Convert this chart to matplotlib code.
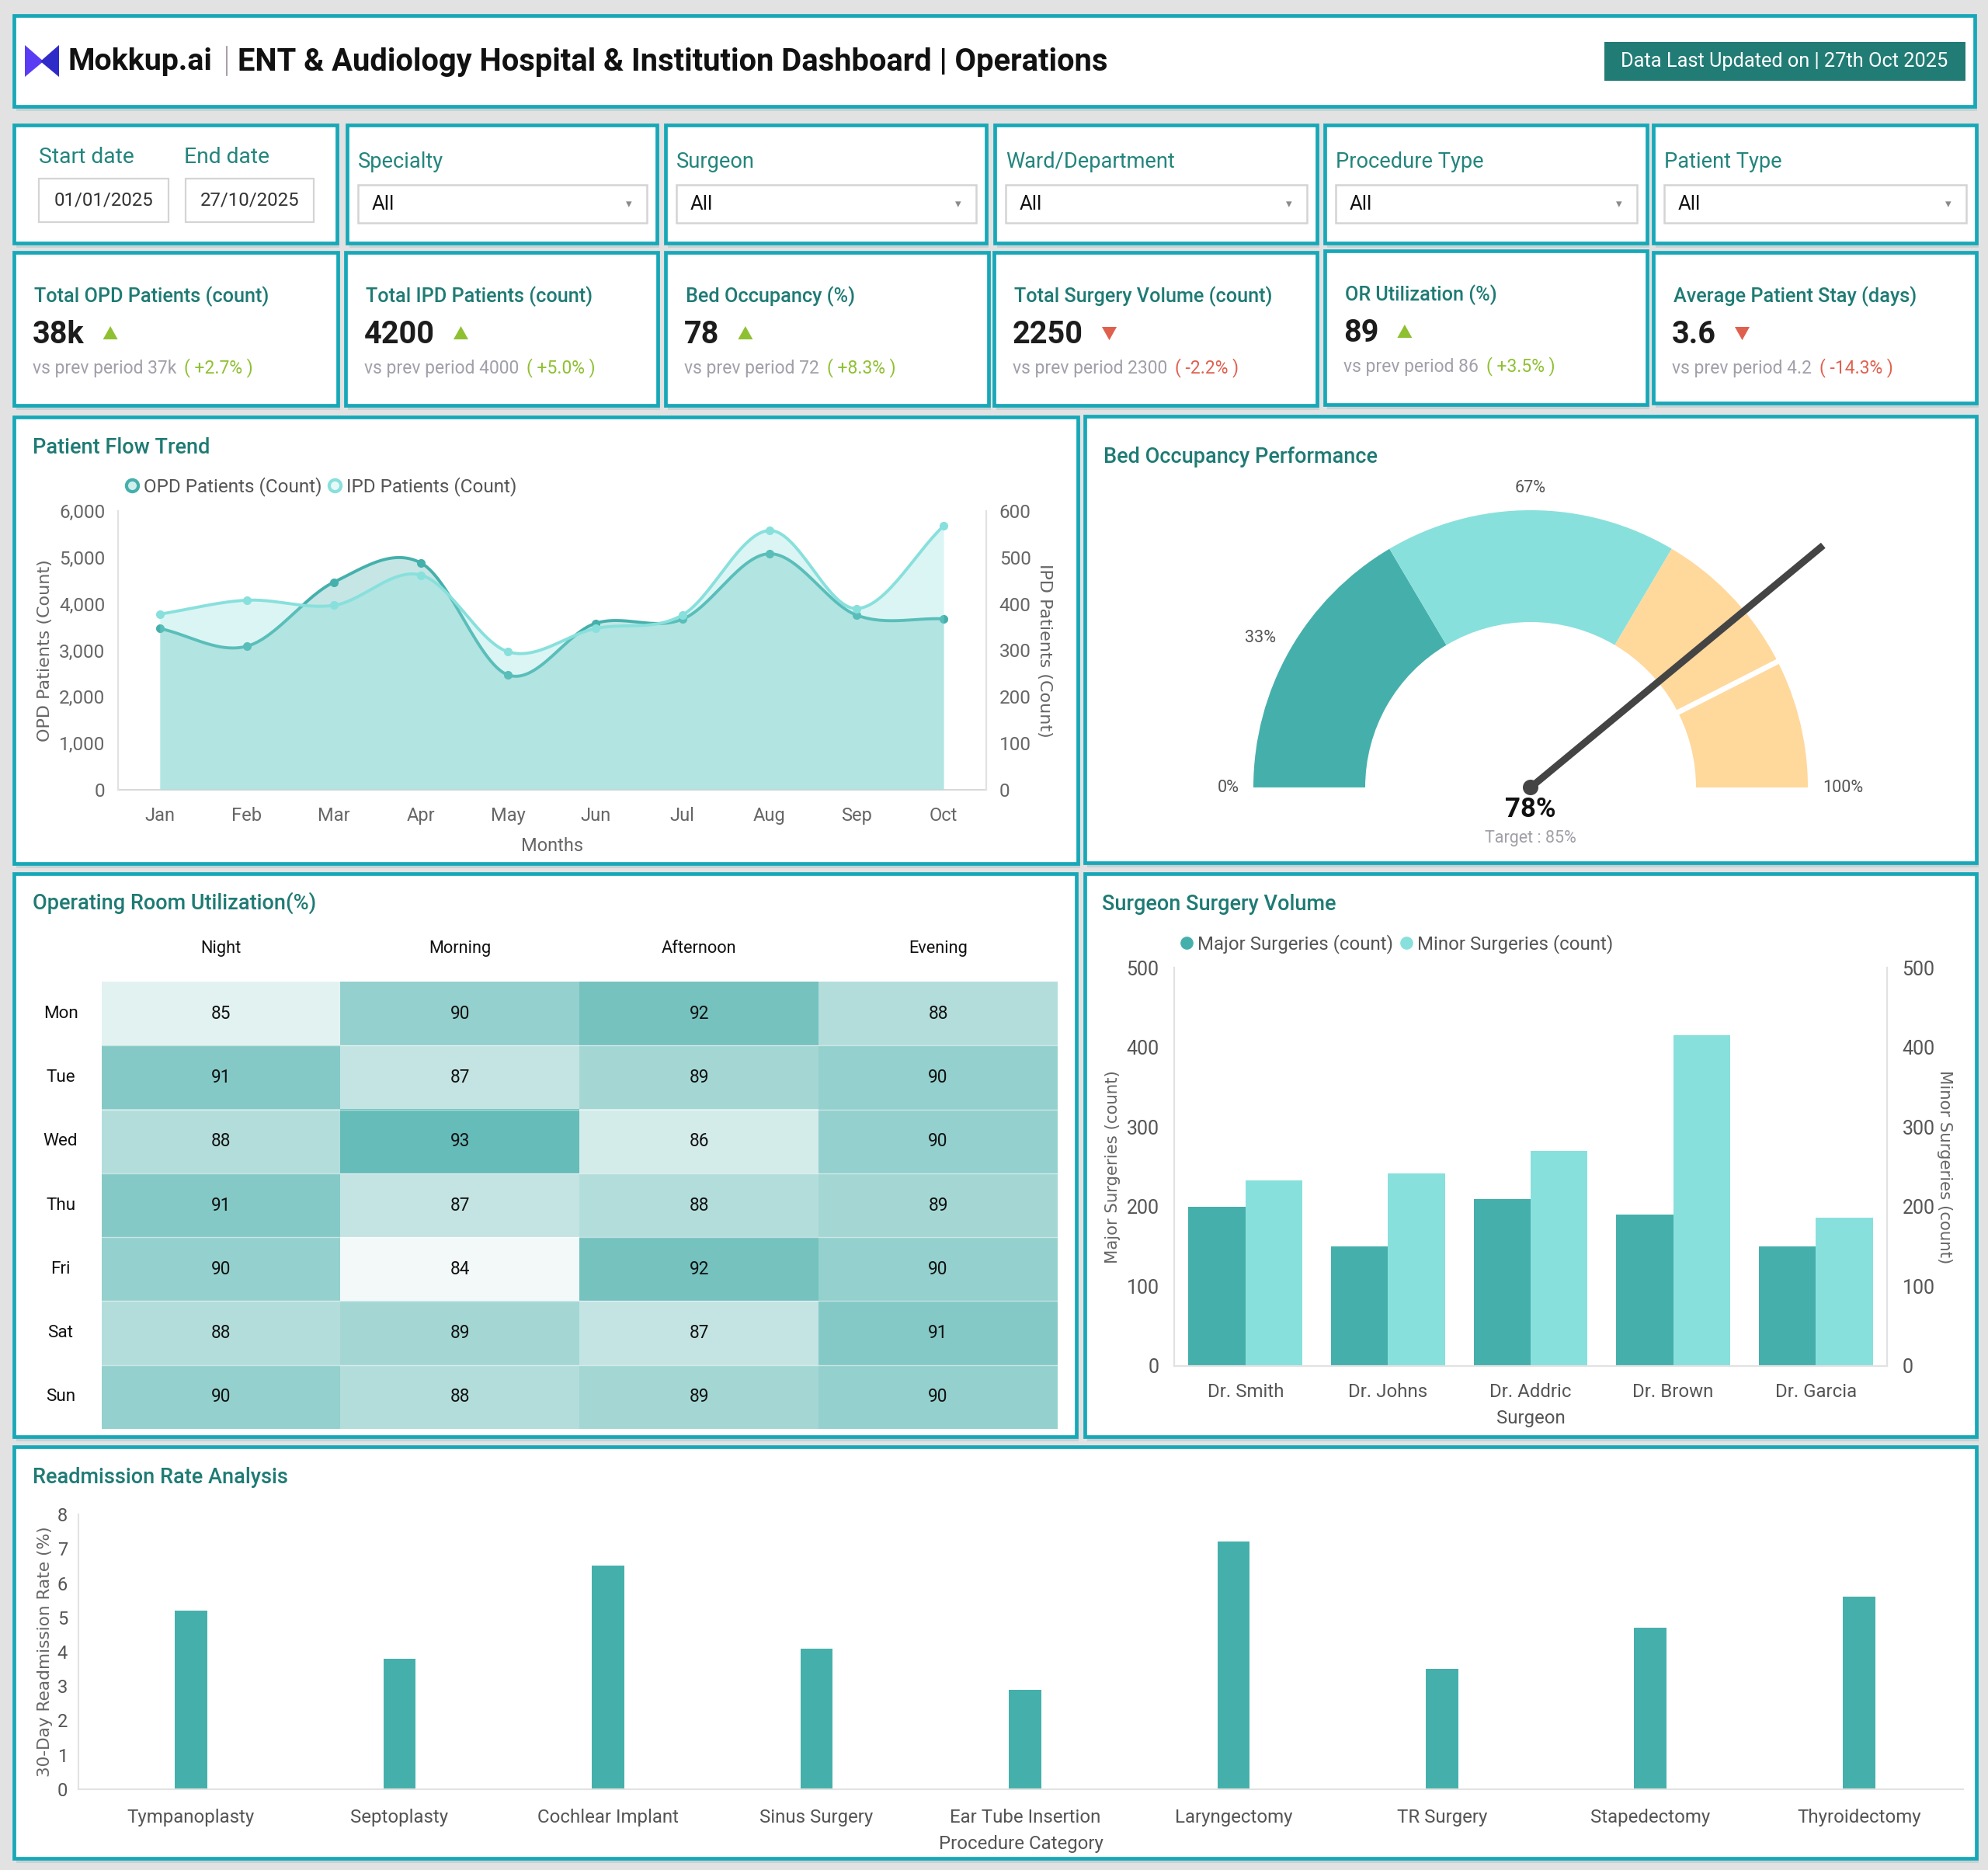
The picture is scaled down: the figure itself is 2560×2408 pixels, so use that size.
import numpy as np
import matplotlib
matplotlib.use("Agg")
import matplotlib.pyplot as plt
from matplotlib.patches import Rectangle, Wedge, Circle, Polygon
from matplotlib.lines import Line2D
from matplotlib.colors import LinearSegmentedColormap
from matplotlib.ticker import FuncFormatter

plt.rcParams['font.family'] = ['Roboto', 'DejaVu Sans']

# ---------------- data ----------------
kpi_titles = ["Total OPD Patients (count)", "Total IPD Patients (count)", "Bed Occupancy (%)",
              "Total Surgery Volume (count)", "OR Utilization (%)", "Average Patient Stay (days)"]
kpi_values = ["38k", "4200", "78", "2250", "89", "3.6"]
kpi_prev = ["37k", "4000", "72", "2300", "86", "4.2"]
kpi_change = ["+2.7%", "+5.0%", "+8.3%", "-2.2%", "+3.5%", "-14.3%"]

filter_labels = ["Specialty", "Surgeon", "Ward/Department", "Procedure Type", "Patient Type"]
start_date = "01/01/2025"
end_date = "27/10/2025"

months = ['Jan', 'Feb', 'Mar', 'Apr', 'May', 'Jun', 'Jul', 'Aug', 'Sep', 'Oct']
opd = [3470, 3090, 4470, 4880, 2470, 3580, 3670, 5080, 3760, 3680]
ipd = [378, 408, 397, 462, 297, 347, 376, 558, 390, 568]

gauge_value = 78
gauge_target = 85
gauge_bands = [0, 33, 67, 100]

shifts = ['Night', 'Morning', 'Afternoon', 'Evening']
days = ['Mon', 'Tue', 'Wed', 'Thu', 'Fri', 'Sat', 'Sun']
or_util = [[85, 90, 92, 88],
           [91, 87, 89, 90],
           [88, 93, 86, 90],
           [91, 87, 88, 89],
           [90, 84, 92, 90],
           [88, 89, 87, 91],
           [90, 88, 89, 90]]

surgeons = ['Dr. Smith', 'Dr. Johns', 'Dr. Addric', 'Dr. Brown', 'Dr. Garcia']
major = [200, 150, 210, 190, 150]
minor = [233, 242, 270, 415, 186]

procedures = ['Tympanoplasty', 'Septoplasty', 'Cochlear Implant', 'Sinus Surgery', 'Ear Tube Insertion',
              'Laryngectomy', 'TR Surgery', 'Stapedectomy', 'Thyroidectomy']
readmit = [5.2, 3.8, 6.5, 4.1, 2.9, 7.2, 3.5, 4.7, 5.6]

# ---------------- style ----------------
BG = '#e2e2e2'
BORDER = '#17a8b8'
TEAL_D = '#45b0ab'
TEAL_L = '#88e0dc'
PEACH = '#ffd89c'
TITLE_C = '#1e7b74'
LABEL_C = '#23857d'
BADGE = '#217c75'
TICK_C = '#666666'
UP_C = '#8fc031'
DOWN_C = '#e0604e'

W, H = 2560, 2408
fig = plt.figure(figsize=(W / 100, H / 100), dpi=100, facecolor=BG)
bg = fig.add_axes([0, 0, 1, 1], zorder=0)
bg.set_xlim(0, W)
bg.set_ylim(H, 0)
bg.axis('off')
renderer = fig.canvas.get_renderer()


def rect_ax(x0, y0, x1, y1, z=2):
    a = fig.add_axes([x0 / W, 1 - y1 / H, (x1 - x0) / W, (y1 - y0) / H], zorder=z)
    a.patch.set_alpha(0)
    return a


def panel(x0, y0, x1, y1):
    bg.add_patch(Rectangle((x0 + 3, y0 + 6), x1 - x0, y1 - y0, fc='#c7d2d4', ec='none', zorder=1))
    bg.add_patch(Rectangle((x0, y0), x1 - x0, y1 - y0, fc='white', ec=BORDER, lw=3.4, zorder=2))


def text_w(t):
    return t.get_window_extent(renderer).width


def fit(t, target):
    t.set_fontsize(t.get_fontsize() * target / text_w(t))


def spline(xv, yv, n=30):
    # Catmull-Rom curve through the points (for the smooth lines)
    xv = np.asarray(xv, float)
    yv = np.asarray(yv, float)
    p = np.concatenate([[2 * yv[0] - yv[1]], yv, [2 * yv[-1] - yv[-2]]])
    t = np.linspace(0, 1, n, endpoint=False)
    xs, ys = [], []
    for i in range(len(yv) - 1):
        p0, p1, p2, p3 = p[i], p[i + 1], p[i + 2], p[i + 3]
        ys.append(0.5 * (2 * p1 + (-p0 + p2) * t + (2 * p0 - 5 * p1 + 4 * p2 - p3) * t ** 2
                         + (-p0 + 3 * p1 - 3 * p2 + p3) * t ** 3))
        xs.append(xv[i] + t * (xv[i + 1] - xv[i]))
    xs.append([xv[-1]])
    ys.append([yv[-1]])
    return np.concatenate(xs), np.concatenate(ys)


def style_axis(a, color=TICK_C, size=17):
    for s in a.spines.values():
        s.set_color('#e2e2e2')
        s.set_linewidth(1.5)
    a.tick_params(length=0, colors=color, labelsize=size)


# ---------------- header ----------------
panel(18, 20, 2543, 137)
bg.add_patch(Polygon([(32, 58), (56, 79), (32, 99)], closed=True, fc='#5b3cf5', ec='none', zorder=3))
bg.add_patch(Polygon([(76, 58), (52, 79), (76, 99)], closed=True, fc='#2f2bc9', ec='none', zorder=3))
t = bg.text(87, 80, "Mokkup.ai", fontsize=26, fontweight='bold', color='#111111', va='center', zorder=4)
fit(t, 186)
bg.plot([292, 292], [60, 97], color='#9a8c98', lw=1.2, zorder=4)
t = bg.text(306, 80, "ENT & Audiology Hospital & Institution Dashboard | Operations", fontsize=26,
            fontweight='bold', color='#111111', va='center', zorder=4)
fit(t, 1121)
bg.add_patch(Rectangle((2066, 54), 465, 50, fc=BADGE, ec='none', zorder=3))
t = bg.text(2298, 79, "Data Last Updated on | 27th Oct 2025", fontsize=17, color='white',
            ha='center', va='center', zorder=4)
fit(t, 424)

# ---------------- filters ----------------
fboxes = [(18, 161, 434, 313), (447, 161, 846, 313), (857, 161, 1270, 313),
          (1281, 161, 1696, 313), (1706, 161, 2121, 313), (2129, 161, 2545, 313)]
for b in fboxes:
    panel(*b)

bg.text(50, 203, "Start date", fontsize=20.3, color=LABEL_C, va='center', zorder=4)
bg.text(237, 203, "End date", fontsize=20.3, color=LABEL_C, va='center', zorder=4)
for (x0, x1), d in zip([(50, 217), (239, 404)], [start_date, end_date]):
    bg.add_patch(Rectangle((x0, 230), x1 - x0, 56, fc='white', ec='#d4d4d4', lw=1.6, zorder=3))
    bg.text((x0 + x1) / 2, 258, d, fontsize=17.3, color='#333333', ha='center', va='center', zorder=4)

for (x0, y0, x1, y1), lab in zip(fboxes[1:], filter_labels):
    bg.text(x0 + 14, 209, lab, fontsize=19.6, color=LABEL_C, va='center', zorder=4)
    bg.add_patch(Rectangle((x0 + 14, 238), x1 - x0 - 27, 49, fc='white', ec='#d4d4d4', lw=1.8, zorder=3))
    bg.text(x0 + 32, 263, "All", fontsize=18.5, color='#111111', va='center', zorder=4)
    bg.text(x1 - 36, 263, "\u25be", fontsize=11, color='#8a8a8a', ha='center', va='center',
            family='DejaVu Sans', zorder=4)

# ---------------- KPI cards ----------------
cards = [(18, 325, 435, 522), (445, 325, 847, 522), (857, 325, 1273, 522),
         (1280, 325, 1696, 522), (1706, 323, 2121, 521), (2129, 325, 2545, 519)]
for (x0, y0, x1, y1), ttl, val, prev, chg in zip(cards, kpi_titles, kpi_values, kpi_prev, kpi_change):
    panel(x0, y0, x1, y1)
    up = chg.startswith('+')
    col = UP_C if up else DOWN_C
    bg.text(x0 + 26, y0 + 57, ttl, fontsize=18.2, fontweight='medium', color=TITLE_C, va='center', zorder=4)
    tv = bg.text(x0 + 24, y0 + 106, val, fontsize=28.5, fontweight='bold', color='#1c1c1c', va='center', zorder=4)
    vx = x0 + 24 + text_w(tv) + 24
    yc = y0 + 104
    if up:
        tri = [(vx, yc + 8), (vx + 19, yc + 8), (vx + 9.5, yc - 9)]
    else:
        tri = [(vx, yc - 8), (vx + 19, yc - 8), (vx + 9.5, yc + 9)]
    bg.add_patch(Polygon(tri, closed=True, fc=col, ec='none', zorder=4))
    ts = bg.text(x0 + 24, y0 + 149, "vs prev period " + prev, fontsize=16.5, color='#a0a0aa',
                 va='center', zorder=4)
    bg.text(x0 + 24 + text_w(ts) + 10, y0 + 149, "( " + chg + " )", fontsize=16.5, color=col,
            va='center', zorder=4)

# ---------------- Patient Flow Trend ----------------
panel(18, 537, 1388, 1112)
bg.text(42, 576, "Patient Flow Trend", fontsize=19.5, fontweight='medium', color=TITLE_C, va='center', zorder=4)

ax1 = rect_ax(152, 658, 1270, 1017)
x = np.arange(len(months))
xs, opd_s = spline(x, opd)
ax1.fill_between(xs, opd_s, color=TEAL_D, alpha=0.31, lw=0)
ax1.plot(xs, opd_s, color=TEAL_D, lw=2.8)
ax1.plot(x, opd, 'o', color=TEAL_D, ms=7)
ax1.set_xlim(-0.48, 9.49)
ax1.set_ylim(0, 6000)
ax1.set_yticks(range(0, 6001, 1000))
ax1.yaxis.set_major_formatter(FuncFormatter(lambda v, p: f"{int(v):,}"))
ax1.set_xticks(x)
ax1.set_xticklabels(months)
style_axis(ax1, size=17.5)
ax1.tick_params(axis='x', pad=16, labelsize=17)
ax1.tick_params(axis='y', pad=12)
ax1.spines['top'].set_visible(False)
ax1.spines['bottom'].set_color('#d8d8d8')
ax1.set_ylabel("OPD Patients (Count)", family='DejaVu Sans', fontsize=16, color=TICK_C, labelpad=6)
ax1.set_xlabel("Months", fontsize=17, color=TICK_C, labelpad=11)

ax1b = ax1.twinx()
xs, ipd_s = spline(x, ipd)
ax1b.fill_between(xs, ipd_s, color=TEAL_L, alpha=0.3, lw=0)
ax1b.plot(xs, ipd_s, color=TEAL_L, lw=2.8)
ax1b.plot(x, ipd, 'o', color=TEAL_L, ms=7)
ax1b.set_ylim(0, 600)
ax1b.set_yticks(range(0, 601, 100))
style_axis(ax1b, size=17.5)
ax1b.tick_params(axis='y', pad=12)
ax1b.spines['top'].set_visible(False)
ax1b.spines['bottom'].set_visible(False)
ax1b.set_ylabel("IPD Patients (Count)", family='DejaVu Sans', fontsize=16, color=TICK_C,
                rotation=270, labelpad=20)

hl = [Line2D([], [], ls='none', marker='o', ms=11, mfc='#cfeeec', mec=TEAL_D, mew=3),
      Line2D([], [], ls='none', marker='o', ms=11, mfc='#e6f8f7', mec=TEAL_L, mew=3)]
lg = ax1.legend(hl, ["OPD Patients (Count)", "IPD Patients (Count)"], loc='center',
                bbox_to_anchor=(0.232, 1.088), ncol=2, frameon=False, fontsize=17.5,
                handletextpad=0.1, columnspacing=0.2, handlelength=1.0)
for tx in lg.get_texts():
    tx.set_color('#555555')

# ---------------- Bed Occupancy gauge ----------------
panel(1397, 536, 2545, 1111)
bg.text(1421, 588, "Bed Occupancy Performance", fontsize=19.5, fontweight='medium', color=TITLE_C,
        va='center', zorder=4)

axg = rect_ax(1400, 560, 2540, 1108)
axg.set_xlim(1400, 2540)
axg.set_ylim(2408 - 1108, 2408 - 560)
axg.axis('off')
cx, cy = 1971, 2408 - 1014
r_out, r_in = 357, 213


def ang(p):
    return 180.0 * (1 - p / 100.0)


band_cols = [TEAL_D, TEAL_L, PEACH]
for lo, hi, c in zip(gauge_bands[:-1], gauge_bands[1:], band_cols):
    axg.add_patch(Wedge((cx, cy), r_out, ang(hi), ang(lo), width=r_out - r_in, fc=c, ec='none'))
ta = np.radians(ang(gauge_target))
axg.plot([cx + (r_in - 2) * np.cos(ta), cx + (r_out + 2) * np.cos(ta)],
         [cy + (r_in - 2) * np.sin(ta), cy + (r_out + 2) * np.sin(ta)], color='white', lw=5, solid_capstyle='butt')
va_ = np.radians(ang(gauge_value))
axg.plot([cx, cx + 489 * np.cos(va_)], [cy, cy + 489 * np.sin(va_)], color='#444444', lw=6.5,
         solid_capstyle='butt')
axg.add_patch(Circle((cx, cy), 10, fc='#444444', ec='none'))
label_ang = [180, 151, 90, 0]
label_r = [389, 398, 385, 402]
for p, a, rr in zip(gauge_bands, label_ang, label_r):
    axg.text(cx + rr * np.cos(np.radians(a)), cy + rr * np.sin(np.radians(a)), f"{p}%",
             fontsize=15.5, color='#555555', ha='center', va='center')
axg.text(cx, cy - 28, f"{gauge_value}%", fontsize=25, fontweight='bold', color='#111111', ha='center', va='center')
axg.text(cx, cy - 65, f"Target : {gauge_target}%", fontsize=15.5, color='#a0a0a8', ha='center', va='center')

# ---------------- OR Utilization heatmap ----------------
panel(18, 1125, 1386, 1850)
bg.text(42, 1163, "Operating Room Utilization(%)", fontsize=19.5, fontweight='medium', color=TITLE_C,
        va='center', zorder=4)
axh = rect_ax(131, 1264, 1362, 1840)
cmap = LinearSegmentedColormap.from_list('or', ['#f2f9f8', '#66bcb8'])
data = np.array(or_util)
axh.imshow(data, cmap=cmap, vmin=84, vmax=93, aspect='auto')
for i in range(len(days)):
    for j in range(len(shifts)):
        axh.text(j, i, str(data[i, j]), ha='center', va='center', fontsize=16.3, color='#111111')
for i in range(1, len(days)):
    axh.axhline(i - 0.5, color='white', lw=1, alpha=0.5)
for j, s in enumerate(shifts):
    axh.text(j, -1.02, s, ha='center', va='center', fontsize=15.7, color='#111111', clip_on=False)
for i, d in enumerate(days):
    axh.text(-0.043, i, d, ha='center', va='center', fontsize=16.2, color='#111111', clip_on=False,
             transform=axh.get_yaxis_transform())
axh.set_xticks([])
axh.set_yticks([])
for s in axh.spines.values():
    s.set_visible(False)

# ---------------- Surgeon Surgery Volume ----------------
panel(1397, 1125, 2545, 1850)
bg.text(1419, 1164, "Surgeon Surgery Volume", fontsize=19.5, fontweight='medium', color=TITLE_C,
        va='center', zorder=4)
axs = rect_ax(1512, 1246, 2430, 1759)
xs_ = np.arange(len(surgeons))
axs.bar(xs_ - 0.2, major, width=0.4, color=TEAL_D)
axs.set_xlim(-0.5, 4.5)
axs.set_ylim(0, 500)
axs.set_yticks(range(0, 501, 100))
axs.set_xticks(xs_)
axs.set_xticklabels(surgeons)
style_axis(axs, color='#555555', size=18)
axs.tick_params(axis='x', pad=16, labelsize=17.3)
axs.tick_params(axis='y', pad=14)
axs.spines['top'].set_visible(False)
axs.set_ylabel("Major Surgeries (count)", family='DejaVu Sans', fontsize=15.3, color=TICK_C, labelpad=5)
axs.set_xlabel("Surgeon", fontsize=17.3, color='#555555', labelpad=8)
axs2 = axs.twinx()
axs2.bar(xs_ + 0.2, minor, width=0.4, color=TEAL_L)
axs2.set_ylim(0, 500)
axs2.set_yticks(range(0, 501, 100))
style_axis(axs2, color='#555555', size=18)
axs2.tick_params(axis='y', pad=14)
axs2.spines['top'].set_visible(False)
axs2.set_ylabel("Minor Surgeries (count)", family='DejaVu Sans', fontsize=15.3, color=TICK_C,
                rotation=270, labelpad=16)
hl = [Line2D([], [], ls='none', marker='o', ms=11, mfc=TEAL_D, mec=TEAL_D),
      Line2D([], [], ls='none', marker='o', ms=11, mfc=TEAL_L, mec=TEAL_L)]
lg = axs.legend(hl, ["Major Surgeries (count)", "Minor Surgeries (count)"], loc='center',
                bbox_to_anchor=(0.31, 1.06), ncol=2, frameon=False, fontsize=17.3,
                handletextpad=0.1, columnspacing=0.2, handlelength=1.0)
for tx in lg.get_texts():
    tx.set_color('#555555')

# ---------------- Readmission Rate ----------------
panel(18, 1863, 2545, 2393)
bg.text(42, 1902, "Readmission Rate Analysis", fontsize=19.5, fontweight='medium', color=TITLE_C,
        va='center', zorder=4)
axr = rect_ax(101, 1950, 2528, 2304)
xr = np.arange(len(procedures))
axr.bar(xr, readmit, width=0.155, color=TEAL_D)
axr.set_xlim(-0.54, 8.5)
axr.set_ylim(0, 8)
axr.set_yticks(range(0, 9))
axr.set_xticks(xr)
axr.set_xticklabels(procedures)
style_axis(axr, color='#555555', size=17)
axr.tick_params(axis='x', pad=18, labelsize=17.3)
axr.tick_params(axis='y', pad=10)
axr.spines['top'].set_visible(False)
axr.spines['right'].set_visible(False)
axr.set_ylabel("30-Day Readmission Rate (%)", family='DejaVu Sans', fontsize=15.6, color=TICK_C, labelpad=4)
axr.set_xlabel("Procedure Category", fontsize=17.3, color='#555555', labelpad=8)

fig.savefig("out.png", dpi=100, facecolor=BG)
